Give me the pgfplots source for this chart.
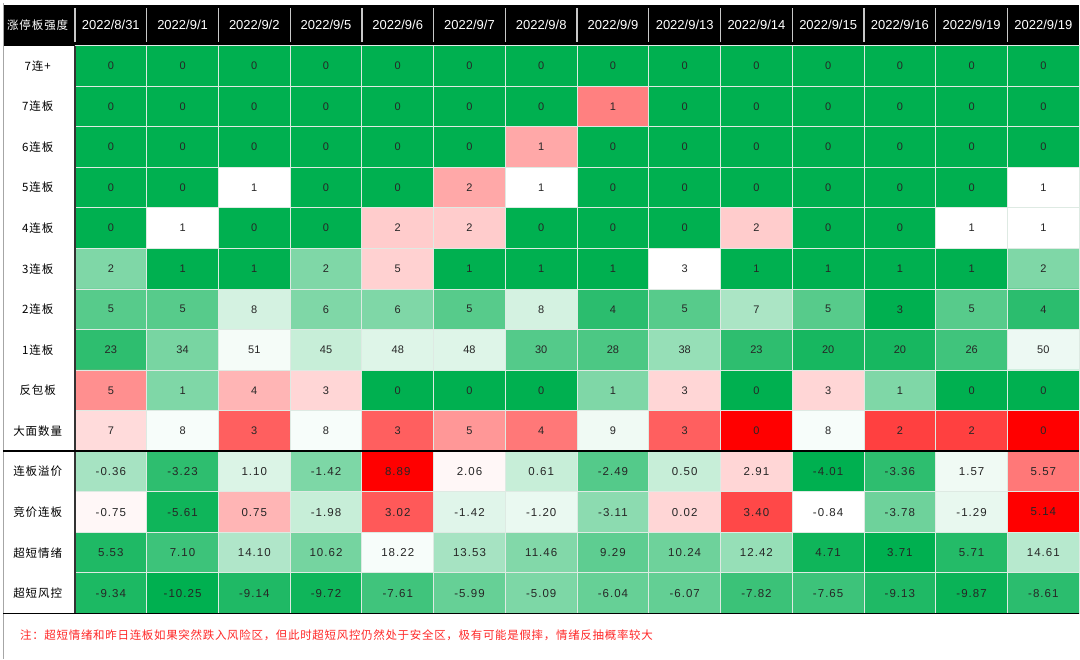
\documentclass[border=0pt]{standalone}
\usepackage{pgfplots}
\pgfplotsset{compat=1.18}
\usepackage{pgfplotstable}
\usepackage{fontspec}
\setmainfont{Liberation Sans}
\newfontfamily\spaced[LetterSpace=9]{Liberation Sans}
\newfontfamily\cjk{Noto Sans CJK SC}
\newfontfamily\cjksp[LetterSpace=8]{Noto Sans CJK SC}
\newfontfamily\cjknote[LetterSpace=6]{Noto Sans CJK SC}
\definecolor{gridc}{RGB}{222,234,227}
\definecolor{notered}{RGB}{255,40,40}
\definecolor{sepc}{RGB}{200,200,200}
\pgfplotstableread{
x y c t
0 0 -1 0
1 0 -1 0
2 0 -1 0
3 0 -1 0
4 0 -1 0
5 0 -1 0
6 0 -1 0
7 0 -1 0
8 0 -1 0
9 0 -1 0
10 0 -1 0
11 0 -1 0
12 0 -1 0
13 0 -1 0
0 1 -1 0
1 1 -1 0
2 1 -1 0
3 1 -1 0
4 1 -1 0
5 1 -1 0
6 1 -1 0
7 1 0.5 1
8 1 -1 0
9 1 -1 0
10 1 -1 0
11 1 -1 0
12 1 -1 0
13 1 -1 0
0 2 -1 0
1 2 -1 0
2 2 -1 0
3 2 -1 0
4 2 -1 0
5 2 -1 0
6 2 0.34 1
7 2 -1 0
8 2 -1 0
9 2 -1 0
10 2 -1 0
11 2 -1 0
12 2 -1 0
13 2 -1 0
0 3 -1 0
1 3 -1 0
2 3 0 1
3 3 -1 0
4 3 -1 0
5 3 0.34 2
6 3 0 1
7 3 -1 0
8 3 -1 0
9 3 -1 0
10 3 -1 0
11 3 -1 0
12 3 -1 0
13 3 0 1
0 4 -1 0
1 4 0 1
2 4 -1 0
3 4 -1 0
4 4 0.2 2
5 4 0.2 2
6 4 -1 0
7 4 -1 0
8 4 -1 0
9 4 0.2 2
10 4 -1 0
11 4 -1 0
12 4 0 1
13 4 0 1
0 5 -0.5 2
1 5 -1 1
2 5 -1 1
3 5 -0.5 2
4 5 0.18 5
5 5 -1 1
6 5 -1 1
7 5 -1 1
8 5 0 3
9 5 -1 1
10 5 -1 1
11 5 -1 1
12 5 -1 1
13 5 -0.5 2
0 6 -0.66 5
1 6 -0.66 5
2 6 -0.17 8
3 6 -0.5 6
4 6 -0.5 6
5 6 -0.66 5
6 6 -0.17 8
7 6 -0.83 4
8 6 -0.66 5
9 6 -0.33 7
10 6 -0.66 5
11 6 -1 3
12 6 -0.66 5
13 6 -0.83 4
0 7 -0.82 23
1 7 -0.53 34
2 7 -0.04 51
3 7 -0.22 45
4 7 -0.13 48
5 7 -0.13 48
6 7 -0.67 30
7 7 -0.7 28
8 7 -0.41 38
9 7 -0.82 23
10 7 -0.91 20
11 7 -0.91 20
12 7 -0.75 26
13 7 -0.07 50
0 8 0.44 5
1 8 -0.5 1
2 8 0.29 4
3 8 0.16 3
4 8 -1 0
5 8 -1 0
6 8 -1 0
7 8 -0.5 1
8 8 0.16 3
9 8 -1 0
10 8 0.16 3
11 8 -0.5 1
12 8 -1 0
13 8 -1 0
0 9 0.14 7
1 9 -0.03 8
2 9 0.63 3
3 9 -0.03 8
4 9 0.63 3
5 9 0.41 5
6 9 0.53 4
7 9 -0.06 9
8 9 0.63 3
9 9 1 0
10 9 -0.03 8
11 9 0.75 2
12 9 0.75 2
13 9 1 0
0 10 -0.35 -0.36
1 10 -0.82 -3.23
2 10 -0.14 1.10
3 10 -0.51 -1.42
4 10 1 8.89
5 10 0.03 2.06
6 10 -0.22 0.61
7 10 -0.67 -2.49
8 10 -0.22 0.50
9 10 0.16 2.91
10 10 -1 -4.01
11 10 -0.82 -3.36
12 10 -0.06 1.57
13 10 0.53 5.57
0 11 0.03 -0.75
1 11 -0.94 -5.61
2 11 0.29 0.75
3 11 -0.22 -1.98
4 11 0.65 3.02
5 11 -0.12 -1.42
6 11 -0.08 -1.20
7 11 -0.45 -3.11
8 11 0.16 0.02
9 11 0.72 3.40
10 11 0 -0.84
11 11 -0.57 -3.78
12 11 -0.09 -1.29
13 11 1 5.14
0 12 -0.88 5.53
1 12 -0.76 7.10
2 12 -0.31 14.10
3 12 -0.54 10.62
4 12 -0.03 18.22
5 12 -0.35 13.53
6 12 -0.49 11.46
7 12 -0.63 9.29
8 12 -0.57 10.24
9 12 -0.41 12.42
10 12 -0.94 4.71
11 12 -1 3.71
12 12 -0.86 5.71
13 12 -0.28 14.61
0 13 -0.89 -9.34
1 13 -1 -10.25
2 13 -0.88 -9.14
3 13 -0.94 -9.72
4 13 -0.75 -7.61
5 13 -0.6 -5.99
6 13 -0.51 -5.09
7 13 -0.6 -6.04
8 13 -0.61 -6.07
9 13 -0.77 -7.82
10 13 -0.76 -7.65
11 13 -0.88 -9.13
12 13 -0.96 -9.87
13 13 -0.83 -8.61
}\cells
\begin{document}
\begin{tikzpicture}
\begin{axis}[
  width=1080pt, height=659pt, scale only axis,
  xmin=-1.545, xmax=13.5, ymin=-1.623, ymax=14.61,
  y dir=reverse, hide axis, clip=false,
  colormap={gwr}{rgb255=(0,176,80) rgb255=(255,255,255) rgb255=(255,0,0)},
  point meta min=-1, point meta max=1,
]
\fill[white] (rel axis cs:0,0) rectangle (rel axis cs:1,1);
\fill[black] (axis cs:-1.503,-1.5) rectangle (axis cs:13.5,-0.5);
\addplot[matrix plot*, mesh/cols=14, point meta=explicit] table[x=x,y=y,meta=c]{\cells};
\pgfplotsinvokeforeach{-0.5,0.5,...,13.6}{
  \draw[gridc, line width=0.9pt] (axis cs:#1,-0.5) -- (axis cs:#1,13.5);
  \draw[gridc, line width=0.9pt] (axis cs:-0.5,#1) -- (axis cs:13.5,#1);
}
\pgfplotsinvokeforeach{-0.5,0.5,...,12.6}{
  \draw[sepc, line width=1.3pt] (axis cs:#1,-1.42) -- (axis cs:#1,-0.58);
}
\addplot[draw=none, mark=none, nodes near coords, nodes near coords align=center,
  point meta=explicit symbolic, restrict y to domain=-1:9.4,
  every node near coord/.append style={font=\fontsize{11}{12}\selectfont, text=black!85}]
  table[x=x,y=y,meta=t]{\cells};
\addplot[draw=none, mark=none, nodes near coords, nodes near coords align=center,
  point meta=explicit symbolic, restrict y to domain=9.6:14,
  every node near coord/.append style={font=\spaced\fontsize{11.5}{12}\selectfont, text=black!85}]
  table[x=x,y=y,meta=t]{\cells};
% borders
\draw[gray!70, line width=1pt] (axis cs:-1.503,-1.55) -- (axis cs:-1.503,14.61);
\draw[black!80, line width=1.6pt] (axis cs:-0.5,-0.5) -- (axis cs:-0.5,13.5);
\draw[black, line width=1.6pt] (axis cs:-1.503,9.5) -- (axis cs:13.5,9.5);
\draw[black, line width=1.2pt] (axis cs:-1.503,13.5) -- (axis cs:13.5,13.5);
% header
\node[text=white, font=\cjksp\fontsize{11.5}{14}\selectfont] at (axis cs:-1.02,-1) {涨停板强度};
\begin{scope}[every node/.style={text=white, font=\fontsize{13}{14}\selectfont}]
\node at (axis cs:0,-1) {2022/8/31};
\node at (axis cs:1,-1) {2022/9/1};
\node at (axis cs:2,-1) {2022/9/2};
\node at (axis cs:3,-1) {2022/9/5};
\node at (axis cs:4,-1) {2022/9/6};
\node at (axis cs:5,-1) {2022/9/7};
\node at (axis cs:6,-1) {2022/9/8};
\node at (axis cs:7,-1) {2022/9/9};
\node at (axis cs:8,-1) {2022/9/13};
\node at (axis cs:9,-1) {2022/9/14};
\node at (axis cs:10,-1) {2022/9/15};
\node at (axis cs:11,-1) {2022/9/16};
\node at (axis cs:12,-1) {2022/9/19};
\node at (axis cs:13,-1) {2022/9/19};
\end{scope}
\begin{scope}[every node/.style={text=black, font=\cjksp\fontsize{11.5}{14}\selectfont}]
\node at (axis cs:-1.02,0) {7连+};
\node at (axis cs:-1.02,1) {7连板};
\node at (axis cs:-1.02,2) {6连板};
\node at (axis cs:-1.02,3) {5连板};
\node at (axis cs:-1.02,4) {4连板};
\node at (axis cs:-1.02,5) {3连板};
\node at (axis cs:-1.02,6) {2连板};
\node at (axis cs:-1.02,7) {1连板};
\node at (axis cs:-1.02,8) {反包板};
\node at (axis cs:-1.02,9) {大面数量};
\node at (axis cs:-1.02,10) {连板溢价};
\node at (axis cs:-1.02,11) {竞价连板};
\node at (axis cs:-1.02,12) {超短情绪};
\node at (axis cs:-1.02,13) {超短风控};
\end{scope}
\node[anchor=west, inner sep=0pt, text=notered, font=\cjknote\fontsize{11.5}{14}\selectfont] at (axis cs:-1.267,14.03) {注：超短情绪和昨日连板如果突然跌入风险区，但此时超短风控仍然处于安全区，极有可能是假摔，情绪反抽概率较大};
\end{axis}
\end{tikzpicture}
\end{document}
